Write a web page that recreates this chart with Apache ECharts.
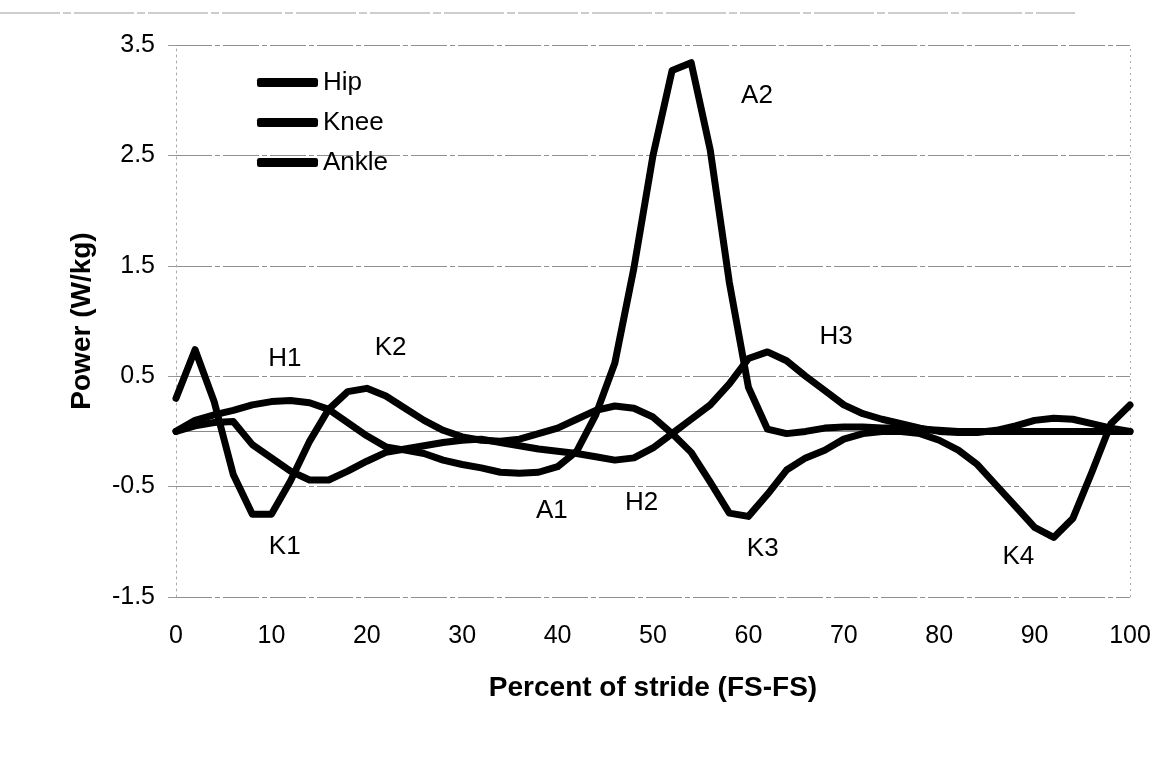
<!DOCTYPE html>
<html>
<head>
<meta charset="utf-8">
<script src="https://cdn.jsdelivr.net/npm/echarts@6/dist/echarts.min.js"></script>
<style>
html,body{margin:0;padding:0;background:#fff;}
#chart{width:1159px;height:762px;}
</style>
</head>
<body>
<div id="chart"></div>
<script>
// Percent of stride (x values)
const stride = [0,2,4,6,8,10,12,14,16,18,20,22,24,26,28,30,32,34,36,38,40,42,44,46,48,50,
  52,54,56,58,60,62,64,66,68,70,72,74,76,78,80,82,84,86,88,90,92,94,96,98,100];

const hip = [0.00,0.05,0.08,0.09,-0.12,-0.24,-0.36,-0.44,-0.44,-0.36,-0.27,-0.19,-0.16,-0.13,-0.10,-0.08,
  -0.07,-0.10,-0.13,-0.16,-0.18,-0.20,-0.23,-0.26,-0.24,-0.15,-0.02,0.11,0.24,0.43,0.66,0.72,0.64,0.50,
  0.37,0.24,0.16,0.11,0.07,0.03,0.00,-0.01,-0.01,0.01,0.05,0.10,0.12,0.11,0.07,0.03,0.00];

const knee = [0.30,0.74,0.27,-0.39,-0.75,-0.75,-0.45,-0.09,0.20,0.36,0.39,0.32,0.21,0.10,0.01,-0.05,
  -0.08,-0.09,-0.07,-0.02,0.03,0.11,0.19,0.23,0.21,0.13,-0.02,-0.19,-0.46,-0.74,-0.77,-0.57,-0.35,-0.24,
  -0.17,-0.07,-0.02,0.00,0.00,-0.02,-0.08,-0.17,-0.30,-0.49,-0.68,-0.87,-0.96,-0.79,-0.37,0.07,0.24];

const ankle = [0.00,0.10,0.15,0.19,0.24,0.27,0.28,0.26,0.20,0.08,-0.04,-0.14,-0.17,-0.20,-0.26,-0.30,
  -0.33,-0.37,-0.38,-0.37,-0.32,-0.18,0.15,0.62,1.48,2.50,3.27,3.34,2.55,1.35,0.40,0.02,-0.02,0.00,
  0.03,0.04,0.04,0.03,0.03,0.02,0.01,0.00,0.00,0.00,0.00,0.00,0.00,0.00,0.00,0.00,0.00];

// Phase annotations
const annoNames = ['H1','K1','K2','A1','H2','A2','K3','H3','K4'];
const annoX = [11.4,11.4,22.5,39.4,48.8,60.9,61.5,69.2,88.3];
const annoY = [0.66,-1.05,0.76,-0.72,-0.65,3.04,-1.06,0.86,-1.14];

const seriesNames = ['Hip','Knee','Ankle'];

const font = 'Liberation Sans, Arial, Helvetica, sans-serif';
const pair = arr => stride.map((x, i) => [x, arr[i]]);
const lineSeries = (name, arr) => ({
  name: name,
  type: 'line',
  data: pair(arr),
  symbol: 'none',
  smooth: false,
  z: 5,
  lineStyle: { color: '#000', width: 7, join: 'round', cap: 'round' },
  itemStyle: { color: '#000' }
});

const chart = echarts.init(document.getElementById('chart'), null, { renderer: 'canvas' });
const hipS = lineSeries(seriesNames[0], hip);
hipS.markLine = {
  silent: true,
  symbol: ['none', 'none'],
  label: { show: false },
  z: 1,
  data: [
    { yAxis: 0, lineStyle: { color: '#8a8a8a', width: 1.2, type: 'solid' } },
    { xAxis: 100, lineStyle: { color: '#aaa', width: 1, type: [2, 4] } }
  ]
};

chart.setOption({
  animation: false,
  backgroundColor: '#fff',
  grid: { left: 176, right: 29, top: 45, bottom: 165, containLabel: false },
  legend: {
    data: seriesNames,
    orient: 'vertical',
    left: 252,
    top: 64,
    icon: 'roundRect',
    itemWidth: 61,
    itemHeight: 9,
    itemGap: 13,
    itemStyle: { color: '#000' },
    textStyle: { fontFamily: font, fontSize: 26, color: '#000', lineHeight: 27 }
  },
  xAxis: {
    type: 'value',
    min: 0, max: 100, interval: 10,
    name: 'Percent of stride (FS-FS)',
    nameLocation: 'middle',
    nameGap: 77,
    nameTextStyle: { fontFamily: font, fontSize: 28, fontWeight: 'bold', color: '#000' },
    axisLine: { show: false },
    axisTick: { show: false },
    splitLine: { show: false },
    axisLabel: { fontFamily: font, fontSize: 25, color: '#000', margin: 27 }
  },
  yAxis: {
    type: 'value',
    min: -1.5, max: 3.5, interval: 1,
    name: 'Power (W/kg)',
    nameLocation: 'middle',
    nameGap: 80,
    nameRotate: 90,
    nameTextStyle: { fontFamily: font, fontSize: 28, fontWeight: 'bold', color: '#000' },
    axisLine: { show: true, lineStyle: { color: '#aaa', width: 1, type: [2, 4] } },
    axisTick: { show: true, length: 8, lineStyle: { color: '#999' } },
    splitLine: { show: true, lineStyle: { color: '#8f8f8f', width: 1.2, type: [36, 3, 5, 3] } },
    axisLabel: { fontFamily: font, fontSize: 25, color: '#000', margin: 21,
      formatter: v => v.toFixed(1) }
  },
  graphic: [
    { type: 'line', shape: { x1: 0, y1: 13, x2: 1075, y2: 13 },
      style: { stroke: '#9a9a9a', lineWidth: 1, lineDash: [60, 3, 8, 3] }, silent: true }
  ],
  series: [
    hipS,
    lineSeries(seriesNames[1], knee),
    lineSeries(seriesNames[2], ankle),
    {
      name: 'labels',
      type: 'scatter',
      symbolSize: 1,
      silent: true,
      z: 6,
      itemStyle: { opacity: 1, color: 'rgba(0,0,0,0)' },
      emphasis: { disabled: true },
      data: annoNames.map((n, i) => ({ name: n, value: [annoX[i], annoY[i]] })),
      label: {
        show: true,
        position: 'inside',
        formatter: p => p.name,
        fontFamily: font,
        fontSize: 26,
        color: '#000',
        opacity: 1
      }
    }
  ]
});
</script>
</body>
</html>
